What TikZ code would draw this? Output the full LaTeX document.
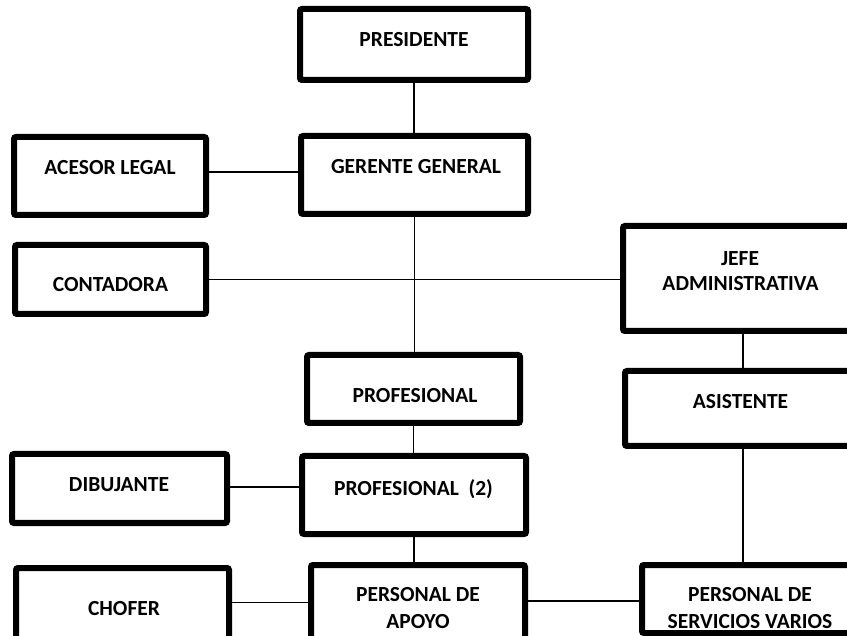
\documentclass[tikz,border=0pt]{standalone}
\usepackage{fontspec}
\setmainfont{Carlito}
\tikzset{
  orgbox/.style={draw=black, line width=6pt, rounded corners=2pt, inner sep=0pt, outer sep=0pt, fill=white},
  lbl/.style={font=\bfseries\fontsize{21.5}{25}\selectfont, inner sep=0pt, text height=13.6pt, text depth=0pt},
  conn/.style={line width=1.6pt, draw=black}
}
\begin{document}
\begin{tikzpicture}[x=1pt, y=-1pt]
\useasboundingbox (0,0) rectangle (847,636);
% boxes
\node[orgbox, minimum width=228pt, minimum height=71pt] (pres) at (414,44.5) {};
\node[orgbox, minimum width=227pt, minimum height=78pt] (ger) at (414.5,175) {};
\node[orgbox, minimum width=192pt, minimum height=78pt] (ace) at (110,176) {};
\node[orgbox, minimum width=191pt, minimum height=69pt] (cont) at (110.5,279.5) {};
\node[orgbox, minimum width=234pt, minimum height=105pt] (jefe) at (740,278.5) {};
\node[orgbox, minimum width=231pt, minimum height=75pt] (asis) at (740.5,408.5) {};
\node[orgbox, minimum width=213pt, minimum height=68pt] (prof) at (413.5,389) {};
\node[orgbox, minimum width=224pt, minimum height=78pt] (prof2) at (414,495) {};
\node[orgbox, minimum width=215pt, minimum height=69pt] (dib) at (119.5,488.5) {};
\node[orgbox, minimum width=213pt, minimum height=79pt] (chof) at (122.5,607.5) {};
\node[orgbox, minimum width=214pt, minimum height=78pt] (apoyo) at (418,604) {};
\node[orgbox, minimum width=216pt, minimum height=68pt] (serv) at (750,599) {};
% texts
\node[lbl] (tpres) at (414,40) {PRESIDENTE};
\node[lbl] (tger) at (416,167) {GERENTE GENERAL};
\node[lbl] (tace) at (110,168) {ACESOR LEGAL};
\node[lbl] (tcont) at (110.5,285) {CONTADORA};
\node[lbl] (tjefe1) at (740,259) {JEFE};
\node[lbl] (tjefe2) at (740.5,284) {ADMINISTRATIVA};
\node[lbl] (tasis) at (740.5,401.5) {ASISTENTE};
\node[lbl] (tprof) at (415,395.5) {PROFESIONAL};
\node[lbl] (tprof2) at (413.5,489) {PROFESIONAL\ \ (2)};
\node[lbl] (tdib) at (119,485) {DIBUJANTE};
\node[lbl] (tchof) at (124,608.5) {CHOFER};
\node[lbl] (tapo1) at (418,595) {PERSONAL DE};
\node[lbl] (tapo2) at (418,621.5) {APOYO};
\node[lbl] (tserv1) at (750,595) {PERSONAL DE};
\node[lbl] (tserv2) at (750,621.5) {SERVICIOS VARIOS};
% connectors
\draw[conn] (pres.south) -- (pres.south |- ger.north);
\draw[conn] ([yshift=4pt]ace.east) -- ([yshift=4pt]ace.east -| ger.west);
\draw[conn] (ger.south) -- (ger.south |- prof.north);
\draw[conn] (cont.east) -- (cont.east -| jefe.west);
\draw[conn] ([xshift=3pt]jefe.south) -- ([xshift=3pt]jefe.south |- asis.north);
\draw[conn] ([xshift=2.5pt]asis.south) -- ([xshift=2.5pt]asis.south |- serv.north);
\draw[conn] (prof.south) -- (prof.south |- prof2.north);
\draw[conn] ([yshift=1.5pt]dib.east) -- ([yshift=1.5pt]dib.east -| prof2.west);
\draw[conn] (prof2.south) -- (prof2.south |- apoyo.north);
\draw[conn] ([yshift=5pt]chof.east) -- ([yshift=5pt]chof.east -| apoyo.west);
\draw[conn] ([yshift=3pt]apoyo.east) -- ([yshift=3pt]apoyo.east -| serv.west);
\end{tikzpicture}
\end{document}
